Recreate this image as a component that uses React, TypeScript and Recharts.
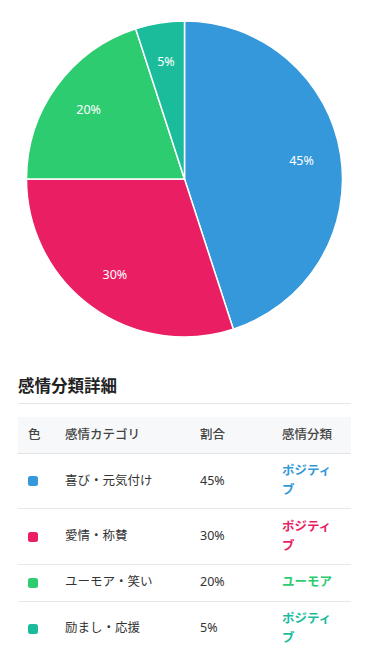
import React from 'react';
import { PieChart, Pie, Cell } from 'recharts';

const CATEGORIES = ['喜び・元気付け', '愛情・称賛', 'ユーモア・笑い', '励まし・応援'];
const SHARES = [45, 30, 20, 5];
const CLASSES = ['ポジティブ', 'ポジティブ', 'ユーモア', 'ポジティブ'];
const COLORS = ['#3498db', '#e91e63', '#2ecc71', '#1abc9c'];

const FONT = '"Noto Sans", "Noto Sans CJK JP", sans-serif';
const RADIAN = Math.PI / 180;

const data = CATEGORIES.map((name, i) => ({ name, value: SHARES[i] }));

const renderLabel = ({ cx, cy, midAngle, outerRadius, value }: any) => {
  const r = outerRadius * 0.75;
  const x = cx + r * Math.cos(-midAngle * RADIAN);
  const y = cy + r * Math.sin(-midAngle * RADIAN);
  return (
    <text x={x} y={y} fill="#fff" fontSize={12.5} fontFamily={FONT} textAnchor="middle" dominantBaseline="central">
      {`${value}%`}
    </text>
  );
};

const th: React.CSSProperties = {
  textAlign: 'left',
  fontWeight: 500,
  color: '#444',
  padding: '8.5px 10px',
  borderBottom: '1px solid #e3e3e3',
  lineHeight: 1.5,
};

const td: React.CSSProperties = {
  padding: '8.5px 10px',
  borderBottom: '1px solid #e8e8e8',
  color: '#333',
  lineHeight: 1.5,
  verticalAlign: 'middle',
};

export default function App() {
  return (
    <div style={{ width: 353, fontFamily: FONT, fontSize: 12.5 }}>
      <PieChart width={353} height={345} margin={{ top: 0, right: 0, bottom: 0, left: 0 }}>
        <Pie
          data={data}
          dataKey="value"
          nameKey="name"
          cx={176.5}
          cy={171}
          outerRadius={158}
          startAngle={90}
          endAngle={-270}
          stroke="#fff"
          strokeWidth={1.5}
          labelLine={false}
          label={renderLabel}
          isAnimationActive={false}
        >
          {data.map((d, i) => (
            <Cell key={d.name} fill={COLORS[i]} />
          ))}
        </Pie>
      </PieChart>
      <div style={{ padding: '0 10px' }}>
        <div
          style={{
            marginTop: 19.5,
            fontSize: 16.5,
            fontWeight: 700,
            color: '#222',
            lineHeight: '25px',
            paddingBottom: 5.5,
            borderBottom: '1px solid #e6e6e6',
          }}
        >
          感情分類詳細
        </div>
        <table style={{ width: '100%', borderCollapse: 'collapse', marginTop: 13, fontSize: 12.5 }}>
          <colgroup>
            <col style={{ width: 37 }} />
            <col style={{ width: 135 }} />
            <col style={{ width: 82 }} />
            <col style={{ width: 79 }} />
          </colgroup>
          <thead>
            <tr style={{ background: '#f7f8fa' }}>
              <th style={th}>色</th>
              <th style={th}>感情カテゴリ</th>
              <th style={th}>割合</th>
              <th style={th}>感情分類</th>
            </tr>
          </thead>
          <tbody>
            {CATEGORIES.map((name, i) => {
              const cell = i === CATEGORIES.length - 1 ? { ...td, borderBottom: 'none' } : td;
              return (
                <tr key={name}>
                  <td style={cell}>
                    <div style={{ width: 10, height: 10, borderRadius: 2.5, background: COLORS[i] }} />
                  </td>
                  <td style={cell}>{name}</td>
                  <td style={cell}>{SHARES[i]}%</td>
                  <td style={{ ...cell, color: COLORS[i], fontWeight: 700 }}>{CLASSES[i]}</td>
                </tr>
              );
            })}
          </tbody>
        </table>
      </div>
    </div>
  );
}
